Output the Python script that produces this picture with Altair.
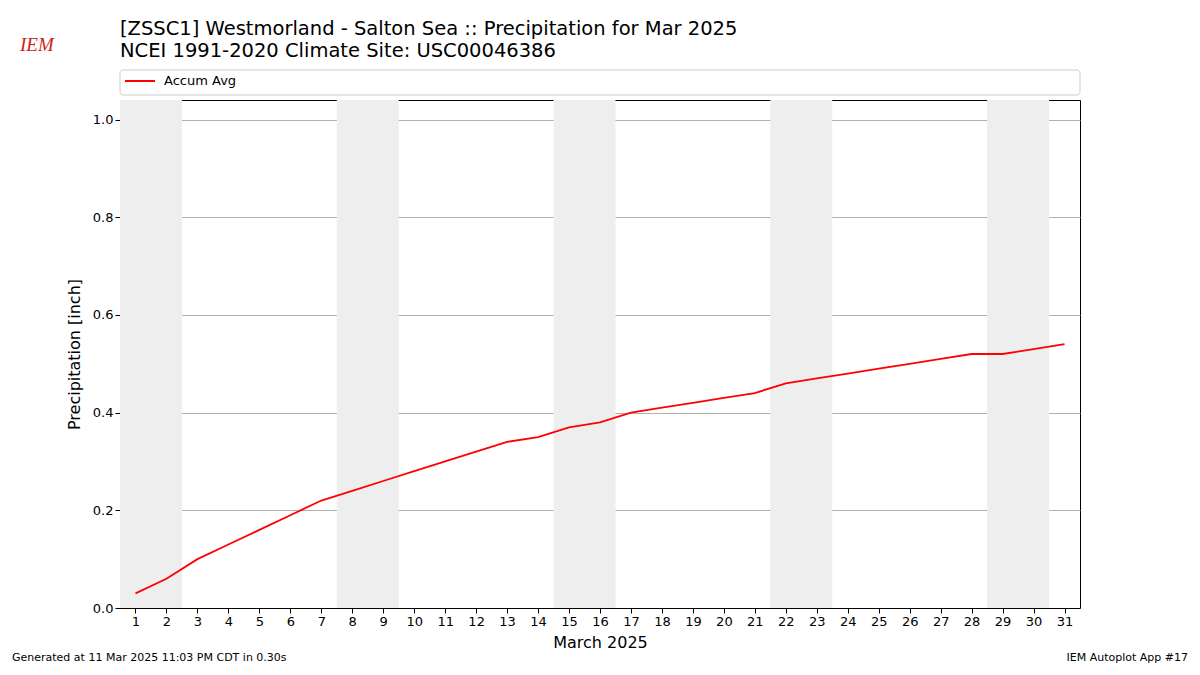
import altair as alt
import pandas as pd

days = list(range(1, 32))
accum_avg = [0.03, 0.06, 0.10, 0.13, 0.16, 0.19, 0.22, 0.24, 0.26, 0.28,
             0.30, 0.32, 0.34, 0.35, 0.37, 0.38, 0.40, 0.41, 0.42, 0.43,
             0.44, 0.46, 0.47, 0.48, 0.49, 0.50, 0.51, 0.52, 0.52, 0.53, 0.54]
weekend_start = [0.5, 7.5, 14.5, 21.5, 28.5]
weekend_end = [2.5, 9.5, 16.5, 23.5, 30.5]

title1 = "[ZSSC1] Westmorland - Salton Sea :: Precipitation for Mar 2025"
title2 = "NCEI 1991-2020 Climate Site: USC00046386"
footer_left = "Generated at 11 Mar 2025 11:03 PM CDT in 0.30s"
footer_right = "IEM Autoplot App #17"
legend_label = "Accum Avg"

FONT = "DejaVu Sans"
W, H = 960, 508

df = pd.DataFrame({"day": days, "precip": accum_avg})
wk = pd.DataFrame({"s": weekend_start, "e": weekend_end})

xscale = alt.Scale(domain=[0.5, 31.5], nice=False, zero=False)
yscale = alt.Scale(domain=[0, 1.04], nice=False)

xaxis = alt.Axis(values=days, format="d", grid=False, labelFontSize=13,
                 titleFontSize=16, labelFont=FONT, titleFont=FONT,
                 titleFontWeight="normal", labelOverlap=False,
                 tickColor="black", domainColor="black", labelColor="black",
                 titleColor="black", titlePadding=6, labelFlush=False)

shade = alt.Chart(wk).mark_rect(color="#eeeeee").encode(
    x=alt.X("s:Q", scale=xscale, title="March 2025", axis=xaxis),
    x2="e:Q",
)

line = alt.Chart(df).mark_line(color="red", strokeWidth=1.8).encode(
    x=alt.X("day:Q", scale=xscale, title="March 2025", axis=xaxis),
    y=alt.Y("precip:Q", scale=yscale, title="Precipitation [inch]",
            axis=alt.Axis(values=[0, 0.2, 0.4, 0.6, 0.8, 1.0], format=".1f",
                          grid=True, gridColor="#b0b0b0", labelFontSize=13,
                          titleFontSize=16, labelFont=FONT, titleFont=FONT,
                          titleFontWeight="normal", labelOverlap=False,
                          tickColor="black", domainColor="black", labelColor="black",
                          titleColor="black", titlePadding=10)),
)

def txt(t, x, y, size, align="left", color="black", style="normal", font=FONT, weight="normal"):
    return alt.Chart(pd.DataFrame({"t": [t]})).mark_text(
        align=align, baseline="middle", fontSize=size, font=font, color=color,
        fontStyle=style, fontWeight=weight, clip=False
    ).encode(x=alt.value(x), y=alt.value(y), text="t:N")

legend_box = alt.Chart(pd.DataFrame({"a": [0]})).mark_rect(
    fill="white", stroke="#cccccc", cornerRadius=3, clip=False
).encode(x=alt.value(0), x2=alt.value(W), y=alt.value(-30), y2=alt.value(-5))

legend_line = alt.Chart(pd.DataFrame({"a": [0]})).mark_rule(
    color="red", strokeWidth=2, clip=False
).encode(x=alt.value(5), x2=alt.value(35), y=alt.value(-19))

logo = txt("IEM", -100, -55, 19, color="#cc2222", style="italic", font="Liberation Serif")

chart = alt.layer(
    shade, line, legend_box, legend_line,
    txt(legend_label, 44, -19, 13),
    txt(title1, 0, -71, 19.5),
    txt(title2, 0, -49, 19.5),
    txt(footer_left, -108, 558, 11),
    txt(footer_right, 1068, 558, 11, align="right"),
    logo,
).properties(
    width=W, height=H,
    autosize=alt.AutoSizeParams(type="none"),
    padding={"left": 112, "top": 92, "right": 112, "bottom": 59},
    background="white",
).configure_view(stroke="black", strokeWidth=1
).configure_axis(labelOverlap=False)

chart.save("out.html", embed_options={"renderer": "svg", "actions": False})
